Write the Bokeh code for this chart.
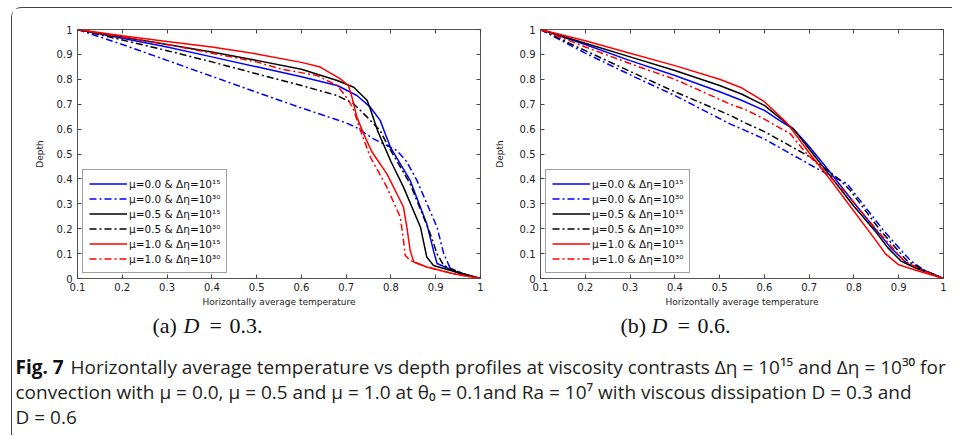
from bokeh.plotting import figure
from bokeh.layouts import row, column
from bokeh.models import Range1d, LinearAxis, FixedTicker, Legend, LegendItem, CustomJSTickFormatter
from bokeh.core.properties import value
from bokeh.embed import file_html
from bokeh.resources import INLINE

# ---------------- data ----------------
x_ticks = [0.1, 0.2, 0.3, 0.4, 0.5, 0.6, 0.7, 0.8, 0.9, 1.0]
x_tick_labels = ["0.1", "0.2", "0.3", "0.4", "0.5", "0.6", "0.7", "0.8", "0.9", "1"]
y_ticks = [0.0, 0.1, 0.2, 0.3, 0.4, 0.5, 0.6, 0.7, 0.8, 0.9, 1.0]
y_tick_labels = ["0", "0.1", "0.2", "0.3", "0.4", "0.5", "0.6", "0.7", "0.8", "0.9", "1"]

series_labels = ["μ=0.0 & Δη=10¹⁵", "μ=0.0 & Δη=10³⁰", "μ=0.5 & Δη=10¹⁵",
                 "μ=0.5 & Δη=10³⁰", "μ=1.0 & Δη=10¹⁵", "μ=1.0 & Δη=10³⁰"]

# (a) D = 0.3
a_mu00_e15_temp = [0.1, 0.2, 0.3, 0.4, 0.5, 0.6, 0.68, 0.724, 0.754, 0.776, 0.787, 0.799, 0.843, 0.88, 0.895, 0.903, 0.947, 1.0]
a_mu00_e15_depth = [1.0, 0.965, 0.93, 0.89, 0.85, 0.81, 0.775, 0.735, 0.688, 0.635, 0.582, 0.527, 0.394, 0.22, 0.112, 0.06, 0.025, 0.0]
a_mu00_e30_temp = [0.1, 0.2, 0.3, 0.4, 0.5, 0.6, 0.7, 0.724, 0.761, 0.813, 0.835, 0.858, 0.903, 0.918, 0.933, 0.973, 1.0]
a_mu00_e30_depth = [1.0, 0.94, 0.876, 0.812, 0.748, 0.685, 0.625, 0.605, 0.561, 0.514, 0.47, 0.394, 0.206, 0.099, 0.039, 0.012, 0.0]
a_mu05_e15_temp = [0.1, 0.2, 0.3, 0.4, 0.5, 0.6, 0.68, 0.717, 0.747, 0.755, 0.77, 0.8, 0.828, 0.866, 0.88, 0.895, 0.947, 1.0]
a_mu05_e15_depth = [1.0, 0.97, 0.94, 0.91, 0.876, 0.84, 0.795, 0.768, 0.715, 0.675, 0.594, 0.47, 0.367, 0.206, 0.086, 0.052, 0.025, 0.0]
a_mu05_e30_temp = [0.1, 0.2, 0.3, 0.4, 0.5, 0.6, 0.68, 0.717, 0.747, 0.776, 0.791, 0.843, 0.888, 0.903, 0.918, 0.96, 1.0]
a_mu05_e30_depth = [1.0, 0.958, 0.915, 0.87, 0.822, 0.775, 0.735, 0.701, 0.648, 0.594, 0.541, 0.38, 0.179, 0.099, 0.052, 0.02, 0.0]
a_mu10_e15_temp = [0.1, 0.2, 0.3, 0.4, 0.5, 0.6, 0.642, 0.687, 0.705, 0.713, 0.724, 0.739, 0.757, 0.791, 0.828, 0.836, 0.843, 0.851, 0.88, 0.94, 1.0]
a_mu10_e15_depth = [1.0, 0.975, 0.952, 0.93, 0.902, 0.868, 0.849, 0.802, 0.775, 0.728, 0.648, 0.581, 0.51, 0.42, 0.287, 0.2, 0.112, 0.066, 0.046, 0.019, 0.0]
a_mu10_e30_temp = [0.1, 0.2, 0.3, 0.4, 0.5, 0.553, 0.635, 0.68, 0.706, 0.717, 0.732, 0.754, 0.79, 0.821, 0.828, 0.832, 0.843, 0.88, 0.94, 1.0]
a_mu10_e30_depth = [1.0, 0.97, 0.94, 0.905, 0.87, 0.842, 0.815, 0.775, 0.715, 0.675, 0.594, 0.487, 0.37, 0.246, 0.153, 0.092, 0.072, 0.046, 0.019, 0.0]

# (b) D = 0.6
b_mu00_e15_temp = [0.1, 0.2, 0.3, 0.4, 0.5, 0.55, 0.6, 0.636, 0.665, 0.7, 0.732, 0.814, 0.881, 0.919, 0.96, 1.0]
b_mu00_e15_depth = [1.0, 0.94, 0.875, 0.815, 0.75, 0.715, 0.675, 0.632, 0.6, 0.53, 0.46, 0.273, 0.126, 0.059, 0.03, 0.0]
b_mu00_e30_temp = [0.1, 0.2, 0.312, 0.4, 0.524, 0.558, 0.6, 0.725, 0.785, 0.866, 0.926, 0.96, 1.0]
b_mu00_e30_depth = [1.0, 0.905, 0.808, 0.735, 0.62, 0.594, 0.56, 0.434, 0.38, 0.193, 0.072, 0.03, 0.0]
b_mu05_e15_temp = [0.1, 0.2, 0.3, 0.4, 0.5, 0.55, 0.6, 0.665, 0.7, 0.75, 0.8, 0.85, 0.875, 0.905, 0.94, 1.0]
b_mu05_e15_depth = [1.0, 0.945, 0.89, 0.835, 0.775, 0.74, 0.695, 0.6, 0.52, 0.405, 0.29, 0.185, 0.125, 0.07, 0.04, 0.0]
b_mu05_e30_temp = [0.1, 0.2, 0.312, 0.4, 0.524, 0.558, 0.6, 0.703, 0.77, 0.792, 0.859, 0.918, 0.96, 1.0]
b_mu05_e30_depth = [1.0, 0.915, 0.822, 0.75, 0.655, 0.624, 0.59, 0.487, 0.394, 0.353, 0.193, 0.072, 0.03, 0.0]
b_mu10_e15_temp = [0.1, 0.2, 0.3, 0.4, 0.5, 0.55, 0.6, 0.65, 0.7, 0.75, 0.8, 0.85, 0.87, 0.9, 0.94, 1.0]
b_mu10_e15_depth = [1.0, 0.955, 0.905, 0.855, 0.8, 0.765, 0.71, 0.625, 0.505, 0.39, 0.27, 0.15, 0.1, 0.055, 0.032, 0.0]
b_mu10_e30_temp = [0.1, 0.2, 0.312, 0.4, 0.524, 0.558, 0.6, 0.658, 0.688, 0.777, 0.852, 0.911, 0.955, 1.0]
b_mu10_e30_depth = [1.0, 0.93, 0.855, 0.8, 0.7, 0.678, 0.64, 0.581, 0.514, 0.353, 0.193, 0.072, 0.03, 0.0]

panel_a = [(a_mu00_e15_temp, a_mu00_e15_depth), (a_mu00_e30_temp, a_mu00_e30_depth),
           (a_mu05_e15_temp, a_mu05_e15_depth), (a_mu05_e30_temp, a_mu05_e30_depth),
           (a_mu10_e15_temp, a_mu10_e15_depth), (a_mu10_e30_temp, a_mu10_e30_depth)]
panel_b = [(b_mu00_e15_temp, b_mu00_e15_depth), (b_mu00_e30_temp, b_mu00_e30_depth),
           (b_mu05_e15_temp, b_mu05_e15_depth), (b_mu05_e30_temp, b_mu05_e30_depth),
           (b_mu10_e15_temp, b_mu10_e15_depth), (b_mu10_e30_temp, b_mu10_e30_depth)]

# ---------------- styles ----------------
COLORS = ["#0000ff", "#0000ff", "#000000", "#000000", "#ff0000", "#ff0000"]
DASHES = ["solid", "7 3 2 3", "solid", "7 3 2 3", "solid", "7 3 2 3"]
TICK_FONT = "DejaVu Sans"


def tick_formatter(tick_values, tick_texts):
    return CustomJSTickFormatter(args=dict(tv=tick_values, tl=tick_texts), code="""
        let best = 0, bd = 1e9;
        for (let i = 0; i < tv.length; i++) {
            const d = Math.abs(tv[i] - tick);
            if (d < bd) { bd = d; best = i; }
        }
        return tl[best];
    """)


def style_axis(ax):
    ax.axis_line_color = None
    ax.major_tick_in = 4
    ax.major_tick_out = 0
    ax.minor_tick_line_color = None
    ax.major_tick_line_color = "#444444"
    ax.major_label_text_font = TICK_FONT
    ax.major_label_text_color = "#222222"
    ax.major_label_text_font_size = "10px"


def make_panel(curves, width, left, right, depth_standoff):
    p = figure(width=width, height=301, x_range=Range1d(0.1, 1.0), y_range=Range1d(0.0, 1.0),
               output_backend="svg", toolbar_location=None,
               min_border_left=left, min_border_right=right, min_border_top=21, min_border_bottom=31)
    p.grid.visible = False
    p.outline_line_color = "#555555"
    p.outline_line_width = 1
    p.background_fill_color = "white"
    p.border_fill_color = "white"

    xa = p.xaxis[0]
    ya = p.yaxis[0]
    xa.ticker = FixedTicker(ticks=x_ticks)
    ya.ticker = FixedTicker(ticks=y_ticks)
    xa.formatter = tick_formatter(x_ticks, x_tick_labels)
    ya.formatter = tick_formatter(y_ticks, y_tick_labels)
    style_axis(xa)
    style_axis(ya)
    xa.major_label_standoff = 4
    ya.major_label_standoff = 5
    xa.axis_label = "Horizontally average temperature"
    ya.axis_label = "Depth"
    for ax in (xa, ya):
        ax.axis_label_text_font = TICK_FONT
        ax.axis_label_text_font_size = "9px"
        ax.axis_label_text_font_style = "normal"
        ax.axis_label_text_color = "#222222"
    xa.axis_label_standoff = 3
    ya.axis_label_standoff = depth_standoff

    # tick marks on the top and right edges (box style), without labels
    blank = CustomJSTickFormatter(code="return '';")
    top = LinearAxis(ticker=FixedTicker(ticks=x_ticks), formatter=blank)
    rgt = LinearAxis(ticker=FixedTicker(ticks=y_ticks), formatter=blank)
    for ax in (top, rgt):
        style_axis(ax)
        ax.major_label_standoff = 0
    p.add_layout(top, "above")
    p.add_layout(rgt, "right")

    items = []
    for (t, d), c, dash, lab in zip(curves, COLORS, DASHES, series_labels):
        r = p.line(t, d, line_color=c, line_width=1.5, line_dash=dash)
        items.append(LegendItem(label=lab, renderers=[r]))

    leg = Legend(items=items, location="bottom_left")
    leg.margin = 5
    leg.padding = 6
    leg.spacing = 0
    leg.glyph_width = 38
    leg.glyph_height = 15
    leg.label_height = 15
    leg.label_standoff = 2
    leg.label_text_font = TICK_FONT
    leg.label_text_font_size = "10.5px"
    leg.label_text_color = "#111111"
    leg.border_line_color = "#444444"
    leg.border_line_width = 1
    leg.background_fill_alpha = 1
    p.add_layout(leg)
    return p


pa = make_panel(panel_a, 476, 65, 8, 9)
pb = make_panel(panel_b, 464, 52, 9, 12)

# ---------------- caption panel ----------------
cap = figure(width=940, height=126, x_range=Range1d(0, 940), y_range=Range1d(126, 0),
             output_backend="svg", toolbar_location=None, min_border=0)
cap.axis.visible = False
cap.grid.visible = False
cap.outline_line_color = None

SERIF = "Liberation Serif"
CAP_SIZE = "22px"
cap.text(x=[140, 608], y=[16, 16], text=["(a)", "(b)"], text_font=value(SERIF),
         text_font_size=CAP_SIZE, text_baseline="middle", text_color="#111111")
cap.text(x=[171, 639], y=[16, 16], text=["D", "D"], text_font=value(SERIF),
         text_font_size=CAP_SIZE, text_font_style="italic", text_baseline="middle", text_color="#111111")
cap.text(x=[197, 665], y=[16, 16], text=["=", "="], text_font=value(SERIF),
         text_font_size=CAP_SIZE, text_baseline="middle", text_color="#111111")
cap.text(x=[217, 685], y=[16, 16], text=["0.3.", "0.6."], text_font=value(SERIF),
         text_font_size=CAP_SIZE, text_baseline="middle", text_color="#111111")

SANS = "Open Sans"
cap.text(x=[3], y=[57], text=["Fig. 7"], text_font=value(SANS), text_font_size="19px",
         text_font_style="bold", text_baseline="middle", text_color="#111111")
cap.text(x=[58, 3, 3], y=[57, 82, 107],
         text=["Horizontally average temperature vs depth profiles at viscosity contrasts Δη = 10¹⁵ and Δη = 10³⁰ for",
               "convection with μ = 0.0, μ = 0.5 and μ = 1.0 at θ₀ = 0.1and Ra = 10⁷ with viscous dissipation D = 0.3 and",
               "D = 0.6"],
         text_font=value(SANS), text_font_size="19px", text_baseline="middle", text_color="#231f20")

layout = column(row(pa, pb), cap,
                styles={"border-left": "1px solid #444444", "border-top": "1px solid #444444",
                        "border-top-left-radius": "10px", "margin-left": "11px", "margin-top": "7px"})

open("out.html", "w").write(file_html(layout, INLINE))
